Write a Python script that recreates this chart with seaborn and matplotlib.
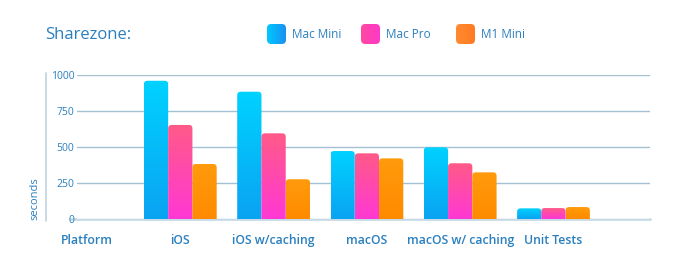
import numpy as np
import pandas as pd
import matplotlib
matplotlib.use("Agg")
import matplotlib.pyplot as plt
import seaborn as sns
from matplotlib.patches import FancyBboxPatch
from matplotlib.colors import LinearSegmentedColormap
from matplotlib.lines import Line2D

# ---- data ----
categories = ["Platform", "iOS", "iOS w/caching", "macOS", "macOS w/ caching", "Unit Tests"]
machines = ["Mac Mini", "Mac Pro", "M1 Mini"]
mac_mini = [np.nan, 960, 884, 472, 498, 74]
mac_pro = [np.nan, 653, 595, 456, 387, 76]
m1_mini = [np.nan, 382, 276, 421, 324, 83]
yticks = [0, 250, 500, 750, 1000]
title = "Sharezone:"
ylabel = "seconds"

# ---- style ----
sns.set_style("white")
plt.rcParams["font.family"] = ["Open Sans", "DejaVu Sans"]
TXT = "#2a7fbf"
GRID = "#a3c1d3"
grads = {
    "Mac Mini": ("#00d2ff", "#0aa3f2"),
    "Mac Pro": ("#ff5a88", "#ff38d4"),
    "M1 Mini": ("#ff9b0c", "#ff8a00"),
}
legend_grads = {
    "Mac Mini": ("#00c8ff", "#1a90f0"),
    "Mac Pro": ("#ff4aa0", "#ff38c8"),
    "M1 Mini": ("#ff8a30", "#ff7a22"),
}

df = pd.DataFrame({
    "category": np.repeat(categories, len(machines)),
    "machine": machines * len(categories),
    "seconds": np.ravel(np.column_stack([mac_mini, mac_pro, m1_mini])),
}).dropna()

W, H = 680, 275
fig = plt.figure(figsize=(W / 100, H / 100), dpi=100)
fig.patch.set_facecolor("white")

AX_L, AX_R, AX_T, AX_B = 77, 650, 75, 219
ax = fig.add_axes([AX_L / W, 1 - AX_B / H, (AX_R - AX_L) / W, (AX_B - AX_T) / H])

palette = {k: v[0] for k, v in grads.items()}
sns.barplot(data=df, x="category", y="seconds", hue="machine", order=categories,
            hue_order=machines, palette=palette, width=0.78, gap=0, ax=ax,
            legend=False, errorbar=None, saturation=1)

spacing = 93.3
x0px = 87
ax.set_xlim(-(x0px - AX_L) / spacing, (AX_R - x0px) / spacing)
ax.set_ylim(0, 1000)
ax.set_yticks(yticks)

# gradient, rounded bars
px_per_x = spacing
px_per_y = (AX_B - AX_T) / 1000
r_px = 3.5
for cont, m in zip(ax.containers, machines):
    cmap = LinearSegmentedColormap.from_list(m, list(grads[m]))
    for p in cont.patches:
        x, w, h = p.get_x(), p.get_width(), p.get_height()
        if not np.isfinite(h) or h <= 0:
            continue
        p.set_alpha(0)
        clip = FancyBboxPatch((x, -50), w, h + 50,
                              boxstyle=f"round,pad=0,rounding_size={r_px / px_per_x}",
                              mutation_aspect=(1 / px_per_y) / (1 / px_per_x),
                              transform=ax.transData, facecolor="none", edgecolor="none")
        ax.add_patch(clip)
        grad = np.linspace(0, 1, 128).reshape(-1, 1)
        im = ax.imshow(grad, extent=(x, x + w, 0, h), origin="upper", cmap=cmap,
                       aspect="auto", zorder=3, interpolation="bilinear")
        im.set_clip_path(clip)

ax.set_xlim(-(x0px - AX_L) / spacing, (AX_R - x0px) / spacing)
ax.set_ylim(0, 1000)

ax.grid(axis="y", color=GRID, lw=1.0, zorder=0)
ax.grid(axis="x", visible=False)
for s in ax.spines.values():
    s.set_visible(False)
ax.set_xlabel("")
ax.set_ylabel("")
ax.tick_params(axis="x", length=0, pad=11, labelsize=8.8, labelcolor=TXT)
ax.tick_params(axis="y", length=0, pad=2, labelsize=7.5, labelcolor=TXT)
for t in ax.get_xticklabels():
    t.set_fontweight("semibold")
ax.set_axisbelow(True)

# zero line, left spine
fig.add_artist(Line2D([70 / W, AX_R / W], [1 - AX_B / H] * 2, color="#c6dae6", lw=2, zorder=0))
fig.add_artist(Line2D([46 / W, 46 / W], [1 - 73 / H, 1 - 221 / H], color="#bfd3e0", lw=1.2))

fig.text(35 / W, 1 - 199 / H, ylabel, rotation=90, ha="center", va="center",
         color=TXT, fontsize=8)
fig.text(45 / W, 1 - 35 / H, title, ha="left", va="center", color=TXT, fontsize=12,
         fontweight="medium")

# legend
handles_x = [267, 361, 456]
for hx, m in zip(handles_x, machines):
    lax = fig.add_axes([hx / W, 1 - 44 / H, 19 / W, 20 / H])
    lax.set_axis_off()
    cmap = LinearSegmentedColormap.from_list(m + "_l", list(legend_grads[m]))
    grad = np.linspace(0, 1, 64).reshape(1, -1)
    im = lax.imshow(grad, extent=(0, 1, 0, 1), cmap=cmap, aspect="auto")
    clip = FancyBboxPatch((0, 0), 1, 1, boxstyle="round,pad=0,rounding_size=0.22",
                          transform=lax.transAxes, facecolor="none", edgecolor="none")
    lax.add_patch(clip)
    im.set_clip_path(clip)
    fig.text((hx + 25) / W, 1 - 34 / H, m, ha="left", va="center", color=TXT, fontsize=8.5)

fig.savefig("out.png", dpi=100, facecolor="white")
